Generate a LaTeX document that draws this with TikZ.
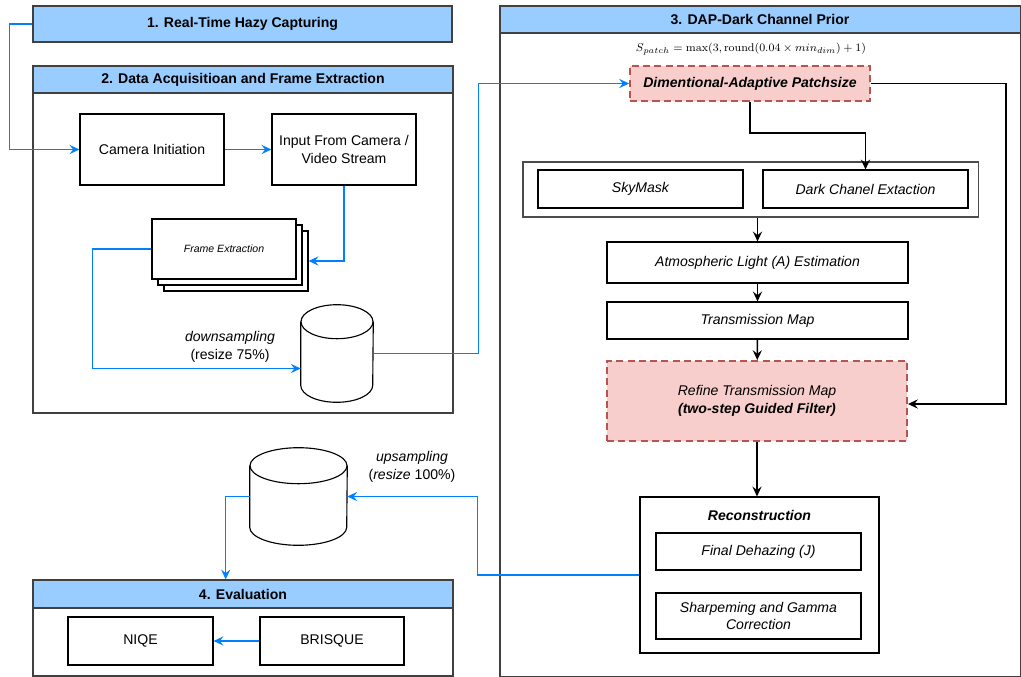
\documentclass[tikz,border=0pt]{standalone}
\usepackage[no-math]{fontspec}
\setmainfont{Liberation Sans}
\usepackage{amsmath}
\usetikzlibrary{arrows.meta,calc}

\definecolor{hdrblue}{HTML}{99CCFF}
\definecolor{lnblue}{HTML}{007FFF}
\definecolor{redfill}{HTML}{F8CECC}
\definecolor{redline}{HTML}{B85450}

\begin{document}
\begin{tikzpicture}[
  x=0.025cm, y=-0.025cm,
  font=\fontsize{10}{12.5}\selectfont,
  panel/.style={rectangle, draw=black!75, line width=0.8pt},
  hdr/.style={rectangle, draw=black!75, line width=0.8pt, fill=hdrblue,
              font=\fontsize{10}{12}\selectfont\bfseries, inner sep=0pt},
  caja/.style={rectangle, draw, line width=0.8pt, align=center, fill=white},
  paso/.style={caja, font=\fontsize{10}{12.5}\selectfont\itshape},
  dap/.style={rectangle, draw=redline, fill=redfill, line width=1.3pt,
              dash pattern=on 5pt off 3pt, align=center},
  db/.style={rectangle, inner sep=0pt},
  dbline/.style={line width=0.8pt},
  blk/.style={-{Stealth[length=7pt,width=6.5pt,inset=2.5pt]}, line width=1pt},
  blu/.style={blk, draw=lnblue}
]
\useasboundingbox (0,0) rectangle (1021,677);

% --- 1. Captura ---
\node[hdr, minimum width=10.475cm, minimum height=0.9cm] (h1) at (242.5,24)
      {1. Real-Time Hazy Capturing};

% --- 2. Adquisicion ---
\node[panel, minimum width=10.5cm, minimum height=8.675cm] (p2) at (243,239.5) {};
\node[hdr, minimum width=10.5cm, minimum height=0.675cm] (h2) at (243,79.5)
      {2. Data Acquisitioan and Frame Extraction};
\node[caja, minimum width=3.6cm, minimum height=1.775cm] (cam) at (152,149.5)
      {Camera Initiation};
\node[caja, minimum width=3.6cm, minimum height=1.775cm] (inp) at (344,149.5)
      {Input From Camera /\\Video Stream};
\node[caja, minimum width=3.6cm, minimum height=1.5cm] (fr3) at (236,261) {};
\node[caja, minimum width=3.6cm, minimum height=1.5cm] (fr2) at (230,255) {};
\node[caja, minimum width=3.6cm, minimum height=1.5cm,
      font=\fontsize{7.5}{9}\selectfont\itshape] (fr1) at (224,249) {Frame Extraction};
\node[db, minimum width=1.8cm, minimum height=2.425cm] (cyl1) at (337,353.5) {};
\draw[dbline] ($(cyl1.north)+(0,17)$) ellipse [x radius=36, y radius=17];
\draw[dbline] ($(cyl1.north west)+(0,17)$) -- ($(cyl1.south west)+(0,-17)$)
      arc[start angle=180, end angle=0, x radius=36, y radius=17]
      -- ($(cyl1.north east)+(0,17)$);
\node[align=center] (down) at (230,347) {\textit{downsampling}\\(resize 75\%)};

% --- 3. DAP ---
\node[panel, minimum width=13cm, minimum height=16.75cm] (p3) at (760,341) {};
\node[hdr, minimum width=13cm, minimum height=0.675cm] (h3) at (760,19.5)
      {3. DAP-Dark Channel Prior};
\node[font=\fontsize{8.5}{10}\selectfont] (eq) at (751,49)
      {$S_{patch} = \max(3, \mathrm{round}(0.04\times min_{dim}) +1)$};
\node[dap, minimum width=6cm, minimum height=0.875cm,
      font=\fontsize{10}{12}\selectfont\bfseries\itshape] (dap) at (750,83.5)
      {Dimentional-Adaptive Patchsize};
\node[caja, draw=black!70, minimum width=11.375cm, minimum height=1.375cm] (grp) at (750.5,189.5) {};
\node[paso, minimum width=5.125cm, minimum height=0.95cm] (sky) at (640.5,189) {SkyMask};
\node[paso, minimum width=5.125cm, minimum height=0.95cm] (dark) at (865.5,189) {Dark Chanel Extaction};
\node[paso, minimum width=7.525cm, minimum height=1.025cm] (atm) at (757.5,262.5)
      {Atmospheric Light (A) Estimation};
\node[paso, minimum width=7.525cm, minimum height=0.925cm] (trans) at (757.5,320.5)
      {Transmission Map};
\node[dap, minimum width=7.5cm, minimum height=2cm,
      font=\fontsize{10}{12.5}\selectfont\itshape] (refine) at (757,401)
      {Refine Transmission Map\\\textbf{(two-step Guided Filter)}};
\node[caja, minimum width=5.975cm, minimum height=3.9cm] (recon) at (759.5,575) {};
\node[font=\fontsize{10}{12}\selectfont\bfseries\itshape] (rtit) at (759.5,515) {Reconstruction};
\node[paso, minimum width=5.125cm, minimum height=0.925cm] (final) at (758.5,551.5)
      {Final Dehazing (J)};
\node[paso, minimum width=5.125cm, minimum height=1.15cm] (sharp) at (758.5,616)
      {Sharpeming and Gamma\\Correction};

% --- Salida ---
\node[db, minimum width=2.425cm, minimum height=2.425cm] (cyl2) at (298.5,496.5) {};
\draw[dbline] ($(cyl2.north)+(0,18)$) ellipse [x radius=48.5, y radius=18];
\draw[dbline] ($(cyl2.north west)+(0,18)$) -- ($(cyl2.south west)+(0,-18)$)
      arc[start angle=180, end angle=0, x radius=48.5, y radius=18]
      -- ($(cyl2.north east)+(0,18)$);
\node[align=center] (up) at (412,467) {\textit{upsampling}\\(\textit{resize} 100\%)};

% --- 4. Evaluacion ---
\node[panel, minimum width=10.5cm, minimum height=2.4cm] (p4) at (243,628) {};
\node[hdr, minimum width=10.5cm, minimum height=0.7cm] (h4) at (243,594)
      {4. Evaluation};
\node[caja, minimum width=3.625cm, minimum height=1.2cm] (niqe) at (140.5,641) {NIQE};
\node[caja, minimum width=3.6cm, minimum height=1.2cm] (bris) at (332,641) {BRISQUE};

% --- Relaciones ---
\draw[blu] (h1.west) -- ++(-23,0) |- (cam.west);
\draw[blu] (cam) -- (inp);
\draw[blu] (inp.south) |- (fr3.east);
\draw[blu] (fr1.west) -- ++(-59,0) |- ($(cyl1.west)+(0,15)$);
\draw[blu] (cyl1.east) -- ++(105,0) |- (dap.west);
\draw[blk] (dap.south) -- ++(0,31) -| (dark.north);
\draw[blk] (dap.east) -- ++(135,0) |- ($(refine.east)+(0,3)$);
\draw[blk] (atm.north |- grp.south) -- (atm.north);
\draw[blk] (atm) -- (trans);
\draw[blk] (trans) -- (refine);
\draw[blk] (refine.south) -- (refine.south |- recon.north);
\draw[blu] (recon.west) -- ++(-162,0) |- (cyl2.east);
\draw[blu] (cyl2.west) -- ++(-24,0) coordinate (t) -- (t |- h4.north);
\draw[blu] (bris) -- (niqe);

\end{tikzpicture}
\end{document}
